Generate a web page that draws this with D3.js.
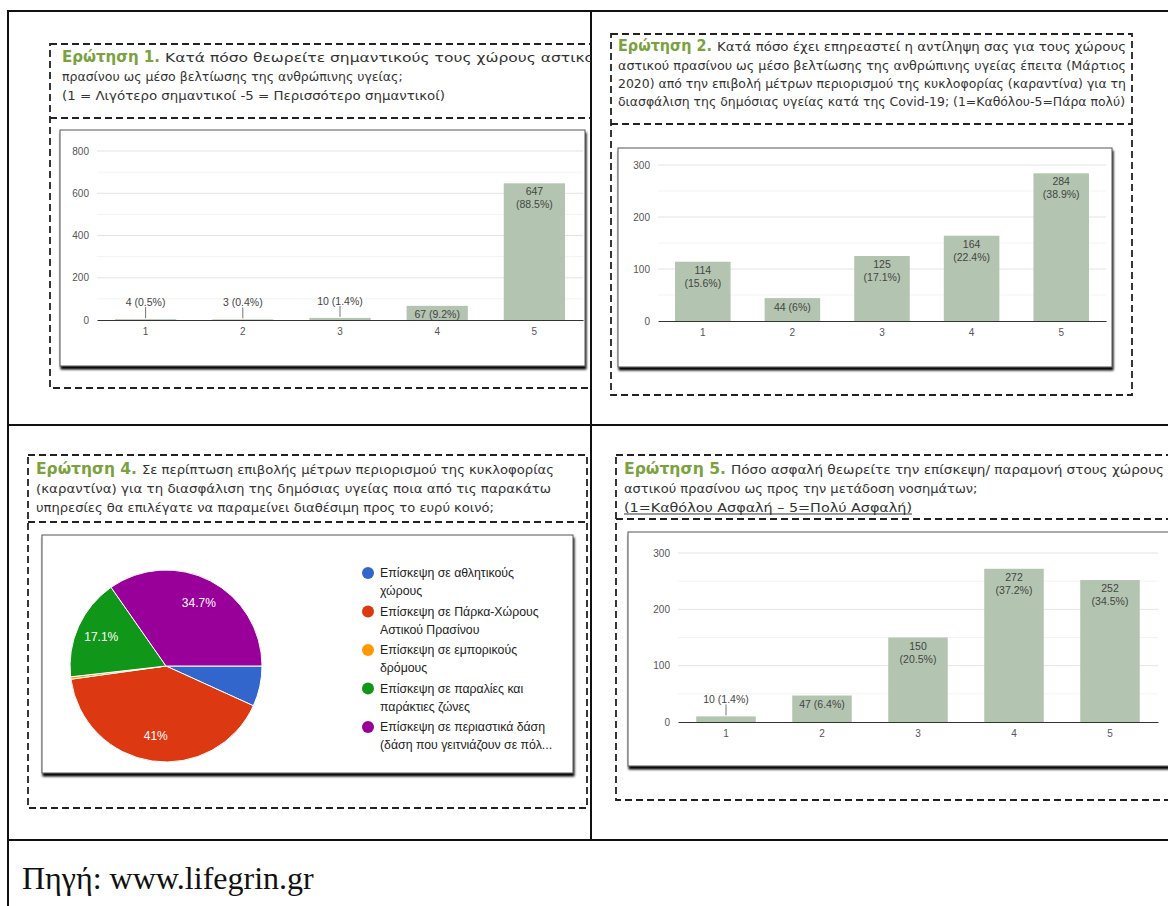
<!DOCTYPE html>
<html>
<head>
<meta charset="utf-8">
<script src="https://cdn.jsdelivr.net/npm/d3@7"></script>
<style>
  body { margin: 0; background: #fff; }
</style>
</head>
<body>
<div id="graf"></div>
<script>
// Datos
var categorias = ['1', '2', '3', '4', '5']

var q1Valores = [4, 3, 10, 67, 647]
var q1Pct = ['0.5%', '0.4%', '1.4%', '9.2%', '88.5%']
var q1Ticks = [0, 200, 400, 600, 800]

var q2Valores = [114, 44, 125, 164, 284]
var q2Pct = ['15.6%', '6%', '17.1%', '22.4%', '38.9%']
var q2Ticks = [0, 100, 200, 300]

var q5Valores = [10, 47, 150, 272, 252]
var q5Pct = ['1.4%', '6.4%', '20.5%', '37.2%', '34.5%']
var q5Ticks = [0, 100, 200, 300]

var q4Pct = [6.8, 41, 0.4, 17.1, 34.7]
var q4Colores = ['#3366cc', '#dc3912', '#ff9900', '#109618', '#990099']
var q4Leyenda = [
  ['Επίσκεψη σε αθλητικούς', 'χώρους'],
  ['Επίσκεψη σε Πάρκα-Χώρους', 'Αστικού Πρασίνου'],
  ['Επίσκεψη σε εμπορικούς', 'δρόμους'],
  ['Επίσκεψη σε παραλίες και', 'παράκτιες ζώνες'],
  ['Επίσκεψη σε περιαστικά δάση', '(δάση που γειτνιάζουν σε πόλ...']
]

var q1Titulo = ['Κατά πόσο θεωρείτε σημαντικούς τους χώρους αστικού',
  'πρασίνου ως μέσο βελτίωσης της ανθρώπινης υγείας;',
  '(1 = Λιγότερο σημαντικοί -5 = Περισσότερο σημαντικοί)']
var q2Titulo = ['Κατά πόσο έχει επηρεαστεί η αντίληψη σας για τους χώρους',
  'αστικού πρασίνου ως μέσο βελτίωσης της ανθρώπινης υγείας έπειτα (Μάρτιος',
  '2020) από την επιβολή μέτρων περιορισμού της κυκλοφορίας (καραντίνα) για τη',
  'διασφάλιση της δημόσιας υγείας κατά της Covid-19; (1=Καθόλου-5=Πάρα πολύ)']
var q4Titulo = ['Σε περίπτωση επιβολής μέτρων περιορισμού της κυκλοφορίας',
  '(καραντίνα) για τη διασφάλιση της δημόσιας υγείας ποια από τις παρακάτω',
  'υπηρεσίες θα επιλέγατε να παραμείνει διαθέσιμη προς το ευρύ κοινό;']
var q5Titulo = ['Πόσο ασφαλή θεωρείτε την επίσκεψη/ παραμονή στους χώρους',
  'αστικού πρασίνου ως προς την μετάδοση νοσημάτων;',
  '(1=Καθόλου Ασφαλή – 5=Πολύ Ασφαλή)']

var fuente = 'Πηγή: www.lifegrin.gr'

var colorBarra = '#b3c5b0'
var verde = '#7ba23f'
var sans = 'Liberation Sans, Arial, sans-serif'

svg = d3.select('#graf').append('svg')
  .attr('width', 1168)
  .attr('height', 906)
  .style('display', 'block')

defs = svg.append('defs')
var filtro = defs.append('filter').attr('id', 'sombra')
  .attr('x', '-5%').attr('y', '-5%').attr('width', '112%').attr('height', '120%')
filtro.append('feDropShadow')
  .attr('dx', 1).attr('dy', 3).attr('stdDeviation', 0.8)
  .attr('flood-color', '#000').attr('flood-opacity', 1)

// celdas de la tabla (cada panel se recorta a su celda)
var celdas = {
  c1: [9, 12, 582, 412],
  c2: [592, 12, 576, 412],
  c4: [9, 426, 582, 413],
  c5: [592, 426, 576, 413]
}
Object.keys(celdas).forEach(k => {
  var c = celdas[k]
  defs.append('clipPath').attr('id', 'clip-' + k)
    .append('rect').attr('x', c[0]).attr('y', c[1]).attr('width', c[2]).attr('height', c[3])
})

// Tabla
var tabla = svg.append('g').attr('stroke', '#111').attr('stroke-width', 2)
tabla.append('line').attr('x1', 8).attr('x2', 1168).attr('y1', 11).attr('y2', 11)
tabla.append('line').attr('x1', 8).attr('x2', 1168).attr('y1', 425).attr('y2', 425)
tabla.append('line').attr('x1', 8).attr('x2', 1168).attr('y1', 840).attr('y2', 840)
tabla.append('line').attr('x1', 8).attr('x2', 8).attr('y1', 10).attr('y2', 906)
tabla.append('line').attr('x1', 591).attr('x2', 591).attr('y1', 10).attr('y2', 840)

svg.append('text')
  .attr('x', 22).attr('y', 889)
  .style('font-family', 'Liberation Serif, Times New Roman, serif')
  .style('font-size', '32px')
  .attr('fill', '#111')
  .text(fuente)

function marco(g, x, y, w, h, sep) {
  g.append('rect')
    .attr('x', x).attr('y', y).attr('width', w).attr('height', h)
    .attr('fill', 'none').attr('stroke', '#222')
    .attr('stroke-width', 1.8).attr('stroke-dasharray', '7,4')
  g.append('line')
    .attr('x1', x).attr('x2', x + w).attr('y1', sep).attr('y2', sep)
    .attr('stroke', '#222').attr('stroke-width', 1.8).attr('stroke-dasharray', '7,4')
}

function tarjeta(g, x, y, w, h) {
  g.append('rect')
    .attr('x', x).attr('y', y).attr('width', w).attr('height', h)
    .attr('fill', '#fff').attr('stroke', '#555').attr('stroke-width', 1)
    .attr('filter', 'url(#sombra)')
}

// titulo: prefijo verde + lineas; las lineas con fin dado llevan ancho fijo
function titulo(g, o) {
  g.append('text')
    .attr('x', o.x).attr('y', o.ys[0])
    .attr('fill', verde)
    .style('font-family', 'DejaVu Sans, sans-serif')
    .style('font-weight', 'bold')
    .style('font-size', (o.fs + 3) + 'px')
    .attr('textLength', o.fines[0] - o.x)
    .attr('lengthAdjust', 'spacingAndGlyphs')
    .text(o.prefijo)
  o.lineas.forEach((l, i) => {
    var x0 = i == 0 ? o.fines[0] + 5 : o.x
    var t = g.append('text')
      .attr('x', x0).attr('y', o.ys[i])
      .attr('fill', '#333')
      .style('font-family', 'DejaVu Sans, sans-serif')
      .style('font-size', o.fs + 'px')
      .text(l)
    if (o.fines[i + 1]) {
      t.attr('textLength', o.fines[i + 1] - x0).attr('lengthAdjust', 'spacingAndGlyphs')
    }
    if (o.subrayado && i == o.lineas.length - 1) {
      var fin = o.fines[i + 1] || x0 + t.node().getComputedTextLength()
      g.append('line')
        .attr('x1', x0).attr('x2', fin)
        .attr('y1', o.ys[i] + 2).attr('y2', o.ys[i] + 2)
        .attr('stroke', '#333').attr('stroke-width', 1)
    }
  })
}

function barras(g, o) {
  var x = d3.scaleBand().domain(categorias).range([o.x0, o.x1]).paddingInner(o.pad).paddingOuter(o.pad / 2)
  var y = d3.scaleLinear().domain([0, o.max]).range([o.base, o.top])

  var paso = o.ticks[1] - o.ticks[0]
  var menores = d3.range(paso / 2, o.max, paso)
  g.selectAll(null).data(menores).join('line')
    .attr('x1', o.x0).attr('x2', o.x1)
    .attr('y1', d => y(d)).attr('y2', d => y(d))
    .attr('stroke', '#f3f3f3')
  g.selectAll(null).data(o.ticks.slice(1)).join('line')
    .attr('x1', o.x0).attr('x2', o.x1)
    .attr('y1', d => y(d)).attr('y2', d => y(d))
    .attr('stroke', '#e4e4e4')

  var ejeY = g.append('g')
    .attr('transform', `translate(${o.x0 - 8}, 0)`)
    .call(d3.axisLeft(y).tickValues(o.ticks).tickSize(0).tickPadding(0))
  ejeY.select('.domain').remove()
  ejeY.selectAll('text').attr('fill', '#555').style('font-family', sans).style('font-size', '10px')

  g.selectAll(null).data(o.valores).join('rect')
    .attr('x', (d, i) => x(categorias[i]))
    .attr('y', d => y(d))
    .attr('width', x.bandwidth())
    .attr('height', d => o.base - y(d))
    .attr('fill', colorBarra)

  var ejeX = g.append('g')
    .attr('transform', `translate(0, ${o.base})`)
    .call(d3.axisBottom(x).tickSize(0).tickPadding(8))
  ejeX.select('.domain').attr('stroke', '#333').attr('stroke-width', 1.2)
  ejeX.selectAll('text').attr('fill', '#555').style('font-family', sans).style('font-size', '10px')

  // etiquetas de valores
  o.valores.forEach((v, i) => {
    var cx = x(categorias[i]) + x.bandwidth() / 2
    var top = y(v)
    var h = o.base - top
    var et = g.append('text')
      .attr('x', cx).attr('text-anchor', 'middle')
      .attr('fill', '#444')
      .style('font-family', sans).style('font-size', '10.5px')
      .attr('dominant-baseline', 'central')
    if (h >= 30) {
      et.attr('y', top + 8).text(v)
      g.append('text')
        .attr('x', cx).attr('y', top + 21).attr('text-anchor', 'middle')
        .attr('fill', '#444')
        .style('font-family', sans).style('font-size', '10.5px')
        .attr('dominant-baseline', 'central')
        .text('(' + o.pct[i] + ')')
    } else if (h >= 12) {
      et.attr('y', top + 8.5).text(v + ' (' + o.pct[i] + ')')
    } else {
      g.append('line')
        .attr('x1', cx).attr('x2', cx)
        .attr('y1', top - 1).attr('y2', top - 12)
        .attr('stroke', '#777')
      et.attr('y', top - 17).text(v + ' (' + o.pct[i] + ')')
    }
  })
}

// ---------- Panel 1 ----------
p1 = svg.append('g').attr('clip-path', 'url(#clip-c1)')
marco(p1, 50, 44, 570, 344, 118)
titulo(p1, {
  x: 62, ys: [62, 81, 100], prefijo: 'Ερώτηση 1.', fs: 12.5,
  lineas: q1Titulo, fines: [160, 603, null, 445]
})
tarjeta(p1, 60, 130, 525, 236)
barras(p1, {
  x0: 97, x1: 583, base: 320, top: 151, max: 800,
  ticks: q1Ticks, valores: q1Valores, pct: q1Pct, pad: 0.37
})

// ---------- Panel 2 ----------
p2 = svg.append('g').attr('clip-path', 'url(#clip-c2)')
marco(p2, 611, 34, 521, 361, 124)
titulo(p2, {
  x: 618, ys: [51, 70, 88, 106], prefijo: 'Ερώτηση 2.', fs: 12.5,
  lineas: q2Titulo, fines: [712, 1126, 1126, 1126, 1125]
})
tarjeta(p2, 618, 148, 494, 219)
barras(p2, {
  x0: 658, x1: 1106, base: 321, top: 165, max: 300,
  ticks: q2Ticks, valores: q2Valores, pct: q2Pct, pad: 0.38
})

// ---------- Panel 4 (pie) ----------
p4 = svg.append('g').attr('clip-path', 'url(#clip-c4)')
marco(p4, 28, 455, 559, 353, 522)
titulo(p4, {
  x: 36, ys: [474, 493, 512], prefijo: 'Ερώτηση 4.', fs: 12.8,
  lineas: q4Titulo, fines: [137, 554, 551, 494]
})
tarjeta(p4, 42, 535, 531, 238)

var radio = 96
var pie = d3.pie().sort(null)
  .startAngle(Math.PI / 2).endAngle(Math.PI / 2 + 2 * Math.PI)
var arco = d3.arc().innerRadius(0).outerRadius(radio)
var arcoEt = d3.arc().innerRadius(radio * 0.74).outerRadius(radio * 0.74)
var tarta = p4.append('g').attr('transform', 'translate(166, 666)')
var porciones = pie(q4Pct)
tarta.selectAll('path').data(porciones).join('path')
  .attr('d', arco)
  .attr('fill', (d, i) => q4Colores[i])
  .attr('stroke', '#fff').attr('stroke-width', 1)
tarta.selectAll('text').data(porciones.filter(d => d.data >= 10)).join('text')
  .attr('transform', d => `translate(${arcoEt.centroid(d)})`)
  .attr('text-anchor', 'middle').attr('dominant-baseline', 'central')
  .attr('fill', '#fff')
  .style('font-family', sans).style('font-size', '12px')
  .text(d => d.data + '%')

var leyenda = p4.append('g')
q4Leyenda.forEach((l, i) => {
  var yy = 573 + i * 38.5
  leyenda.append('circle').attr('cx', 368).attr('cy', yy).attr('r', 6).attr('fill', q4Colores[i])
  l.forEach((t, j) => {
    leyenda.append('text')
      .attr('x', 380).attr('y', yy + j * 18)
      .attr('dominant-baseline', 'central')
      .attr('fill', '#222')
      .style('font-family', sans).style('font-size', '12.3px')
      .text(t)
  })
})

// ---------- Panel 5 ----------
p5 = svg.append('g').attr('clip-path', 'url(#clip-c5)')
marco(p5, 616, 455, 600, 345, 519)
titulo(p5, {
  x: 624, ys: [474, 493, 512], prefijo: 'Ερώτηση 5.', fs: 13,
  lineas: q5Titulo, fines: [726, 1164, null, 912], subrayado: true
})
tarjeta(p5, 628, 532, 600, 234)
barras(p5, {
  x0: 678, x1: 1158, base: 722, top: 553, max: 300,
  ticks: q5Ticks, valores: q5Valores, pct: q5Pct, pad: 0.38
})
</script>
</body>
</html>
